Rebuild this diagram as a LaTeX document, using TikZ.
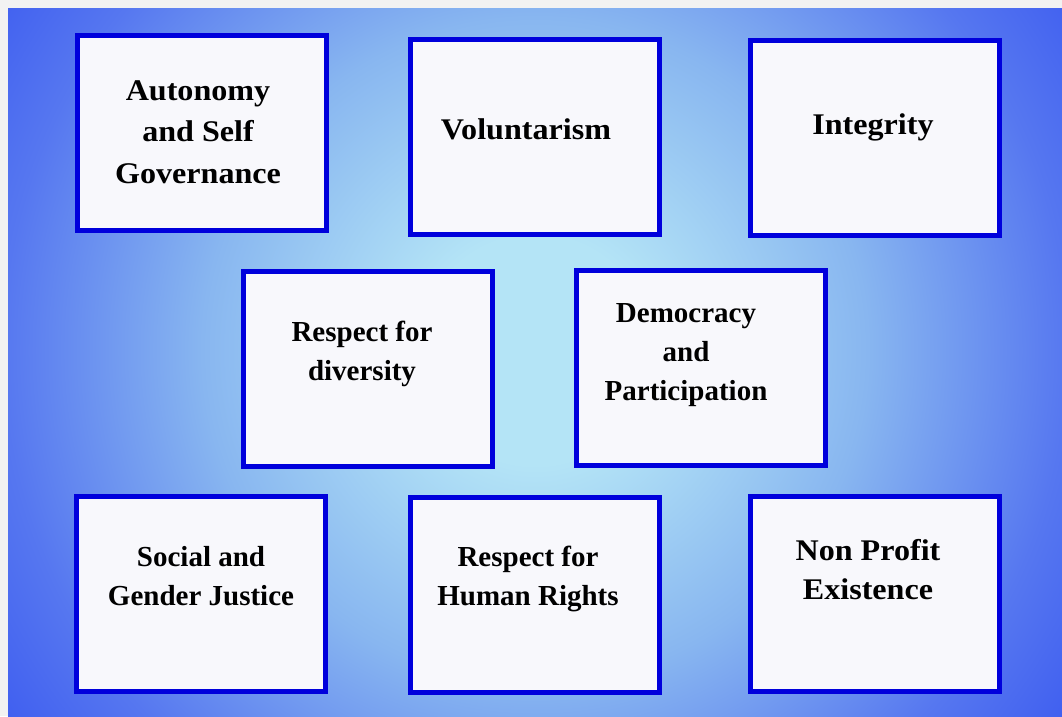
\documentclass[tikz,border=0pt]{standalone}
\usepackage{fontspec}
\setmainfont{Liberation Serif}
\newfontfamily\camfont[FakeStretch=1.07]{Liberation Serif}
\definecolor{outergray}{HTML}{F2F2F2}
\definecolor{cin}{HTML}{B4E4F6}
\definecolor{cmid}{HTML}{88B6F0}
\definecolor{cmid2}{HTML}{5677F0}
\definecolor{cout}{HTML}{3F5EF0}
\definecolor{boxblue}{HTML}{0000DC}
\definecolor{boxfill}{HTML}{F8F8FC}
\pgfdeclareradialshading{bgshade}{\pgfpoint{0bp}{0bp}}{color(0bp)=(cin); color(4.4bp)=(cin); color(12.8bp)=(cmid); color(20.5bp)=(cmid2); color(25bp)=(cout); color(50bp)=(cout)}
\tikzset{
  box/.style={draw=boxblue, line width=5pt, fill=boxfill, minimum width=249pt, minimum height=195pt, inner sep=0pt},
  camtext/.style={font=\camfont\bfseries\fontsize{30}{41.5}\selectfont, align=center, inner sep=0pt, anchor=base},
  timtext/.style={font=\bfseries\fontsize{29}{39}\selectfont, align=center, inner sep=0pt, anchor=base},
}
\begin{document}
\begin{tikzpicture}[x=1pt,y=-1pt]
\useasboundingbox (0,0) rectangle (1062,716);
\fill[outergray] (0,0) rectangle (1062,716);
\begin{scope}
\clip (8,8) rectangle (1062,716);
\shade[shading=bgshade] (535-650,350-650) rectangle (535+650,350+650);
\end{scope}
\node[box] (b1) at (201.5,133) {};
\node[box] (b2) at (535,137) {};
\node[box] (b3) at (874.5,138) {};
\node[box] (b4) at (368,369) {};
\node[box] (b5) at (700.5,367.5) {};
\node[box] (b6) at (200.5,593.5) {};
\node[box] (b7) at (535,595) {};
\node[box] (b8) at (874.5,594) {};
\node[camtext] (t1) at (198,183) {Autonomy\\and Self\\Governance};
\node[camtext] (t2) at (526,139) {Voluntarism};
\node[camtext] (t3) at (873,134) {Integrity};
\node[timtext] (t4) at (362,380) {Respect for\\diversity};
\node[timtext] (t5) at (686,400) {Democracy\\and\\Participation};
\node[timtext] (t6) at (201,605) {Social and\\Gender Justice};
\node[timtext] (t7) at (528,605) {Respect for\\Human Rights};
\node[camtext, font=\camfont\bfseries\fontsize{30}{39}\selectfont] (t8) at (868,599) {Non Profit\\Existence};
\end{tikzpicture}
\end{document}
